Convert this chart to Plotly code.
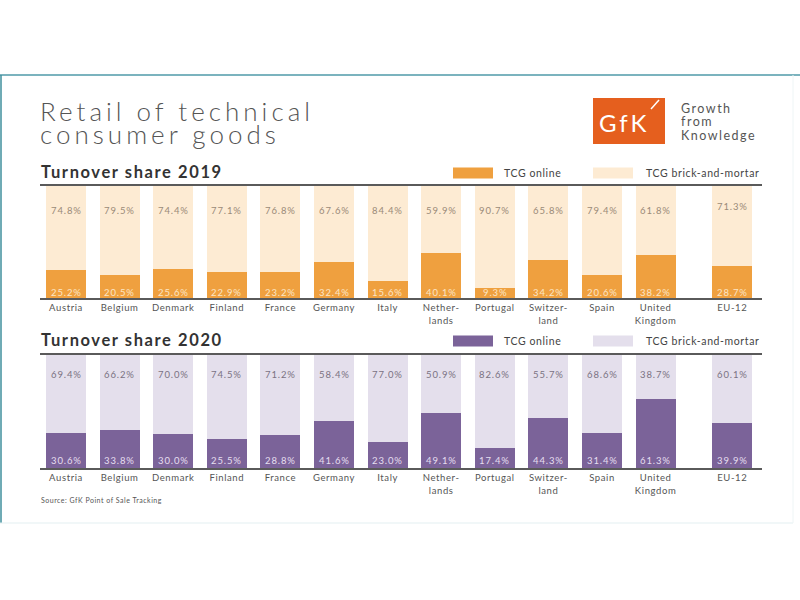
import plotly.graph_objects as go

countries = ["Austria", "Belgium", "Denmark", "Finland", "France", "Germany", "Italy",
             "Nether-<br>lands", "Portugal", "Switzer-<br>land", "Spain", "United<br>Kingdom", "EU-12"]
online_2019 = [25.2, 20.5, 25.6, 22.9, 23.2, 32.4, 15.6, 40.1, 9.3, 34.2, 20.6, 38.2, 28.7]
brick_2019 = [74.8, 79.5, 74.4, 77.1, 76.8, 67.6, 84.4, 59.9, 90.7, 65.8, 79.4, 61.8, 71.3]
online_2020 = [30.6, 33.8, 30.0, 25.5, 28.8, 41.6, 23.0, 49.1, 17.4, 44.3, 31.4, 61.3, 39.9]
brick_2020 = [69.4, 66.2, 70.0, 74.5, 71.2, 58.4, 77.0, 50.9, 82.6, 55.7, 68.6, 38.7, 60.1]

W, H = 800, 600
FONT = "Lato"
ORANGE, BEIGE = "#EFA03F", "#FDEBD3"
PURPLE, LILAC = "#7B6399", "#E4DFEC"

# x positions: countries evenly spaced, EU-12 after a wider gap
GAP = 1.43
xpos = list(range(len(countries) - 1)) + [len(countries) - 2 + GAP]
BARW = 0.746
XR = [-0.485, 12.985]


def px(x):
    return x / W


def py(y):
    return 1 - y / H


def ls(text, sp, size=None):
    parts = text.split("<br>")
    fs = f"font-size:{size}px;" if size else ""
    return "<br>".join(f'<span style="{fs}letter-spacing:{sp}px">{p}</span>' for p in parts)


fig = go.Figure()

panels = [
    dict(on=online_2019, br=brick_2019, c1=ORANGE, c2=BEIGE, xa="x", ya="y",
         toplab_c="#9a8a78", botlab_c="#FCE6C6", toplab=78, eutop=81.5, botlab=4.8),
    dict(on=online_2020, br=brick_2020, c1=PURPLE, c2=LILAC, xa="x2", ya="y2",
         toplab_c="#7a7282", botlab_c="#E6DFF0", toplab=83, eutop=83, botlab=6.4),
]

annotations = []
shapes = []

for p in panels:
    fig.add_trace(go.Bar(x=xpos, y=p["on"], width=BARW, marker=dict(color=p["c1"], line=dict(width=0)),
                         xaxis=p["xa"], yaxis=p["ya"], showlegend=False, hoverinfo="skip"))
    fig.add_trace(go.Bar(x=xpos, y=p["br"], width=BARW, marker=dict(color=p["c2"], line=dict(width=0)),
                         xaxis=p["xa"], yaxis=p["ya"], showlegend=False, hoverinfo="skip"))
    n = len(countries)
    for i in range(n):
        ty = p["eutop"] if i == n - 1 else p["toplab"]
        annotations.append(dict(x=xpos[i], y=ty, xref=p["xa"], yref=p["ya"], text=ls(f"{p['br'][i]:.1f}%", 0.9),
                                showarrow=False, font=dict(family=FONT, size=9.5, color=p["toplab_c"])))
        annotations.append(dict(x=xpos[i], y=p["botlab"], xref=p["xa"], yref=p["ya"], text=ls(f"{p['on'][i]:.1f}%", 0.9),
                                showarrow=False, font=dict(family=FONT, size=9.5, color=p["botlab_c"])))

axis_common = dict(range=XR, tickvals=xpos, ticktext=[ls(c, 0.6) for c in countries], showgrid=False, zeroline=False,
                   showline=True, mirror=True, linecolor="#5a5a5a", linewidth=1.5, ticks="",
                   tickfont=dict(family=FONT, size=9.5, color="#555555"), fixedrange=True)
yaxis_common = dict(range=[0, 100], visible=False, fixedrange=True)

fig.update_layout(
    width=W, height=H, margin=dict(l=0, r=0, t=0, b=0),
    paper_bgcolor="white", plot_bgcolor="rgba(0,0,0,0)",
    barmode="stack", bargap=0,
    xaxis=dict(domain=[px(40), px(762)], anchor="y", **axis_common),
    yaxis=dict(domain=[py(298), py(186)], anchor="x", **yaxis_common),
    xaxis2=dict(domain=[px(40), px(762)], anchor="y2", **axis_common),
    yaxis2=dict(domain=[py(468), py(355)], anchor="x2", **yaxis_common),
)

# Title: base font size sets the (tight) line leading, spans set glyph size
annotations.append(dict(x=px(38), y=py(123), xref="paper", yref="paper", xanchor="left", yanchor="middle",
                        text=ls("Retail of technical<br>consumer goods", 4.0, 26), showarrow=False, align="left",
                        font=dict(family=FONT, size=17.5, color="#555555", weight=300)))
# Subtitles
for txt, y in [("Turnover share 2019", 172), ("Turnover share 2020", 340)]:
    annotations.append(dict(x=px(39), y=py(y), xref="paper", yref="paper", xanchor="left", yanchor="middle",
                            text=f"<b>{ls(txt, 1.6)}</b>", showarrow=False,
                            font=dict(family=FONT, size=16.5, color="#333333")))

# Legends
for y, c1, c2 in [(173, ORANGE, BEIGE), (341, PURPLE, LILAC)]:
    shapes.append(dict(type="rect", xref="paper", yref="paper", x0=px(453), x1=px(493), y0=py(y + 5.5), y1=py(y - 5.5),
                       fillcolor=c1, line=dict(width=0)))
    shapes.append(dict(type="rect", xref="paper", yref="paper", x0=px(593), x1=px(633), y0=py(y + 5.5), y1=py(y - 5.5),
                       fillcolor=c2, line=dict(width=0)))
    annotations.append(dict(x=px(502), y=py(y), xref="paper", yref="paper", xanchor="left", yanchor="middle",
                            text=ls("TCG online", 0.6), showarrow=False, font=dict(family=FONT, size=10.5, color="#444444")))
    annotations.append(dict(x=px(644), y=py(y), xref="paper", yref="paper", xanchor="left", yanchor="middle",
                            text=ls("TCG brick-and-mortar", 0.6), showarrow=False, font=dict(family=FONT, size=10.5, color="#444444")))

# Logo
shapes.append(dict(type="rect", xref="paper", yref="paper", x0=px(593), x1=px(665), y0=py(144), y1=py(98),
                   fillcolor="#E55F1E", line=dict(width=0)))
shapes.append(dict(type="line", xref="paper", yref="paper", x0=px(651), x1=px(659), y0=py(109), y1=py(100),
                   line=dict(color="white", width=1.5)))
annotations.append(dict(x=px(597), y=py(122), xref="paper", yref="paper", xanchor="left", yanchor="middle",
                        text=ls("GfK", 3), showarrow=False, font=dict(family=FONT, size=24, color="white")))
annotations.append(dict(x=px(679), y=py(122), xref="paper", yref="paper", xanchor="left", yanchor="middle",
                        text=ls("Growth<br>from<br>Knowledge", 1.5, 12.5), showarrow=False, align="left",
                        font=dict(family=FONT, size=10.2, color="#555555")))

# Source
annotations.append(dict(x=px(39), y=py(500), xref="paper", yref="paper", xanchor="left", yanchor="middle",
                        text=ls("Source: GfK Point of Sale Tracking", 0.5), showarrow=False,
                        font=dict(family=FONT, size=7, color="#555555")))

# Frame
shapes.append(dict(type="line", xref="paper", yref="paper", x0=0, x1=1, y0=py(75), y1=py(75),
                   line=dict(color="#4f9aa8", width=1.5)))
shapes.append(dict(type="line", xref="paper", yref="paper", x0=px(1), x1=px(1), y0=py(75), y1=py(523),
                   line=dict(color="#3f8f9c", width=1.5)))
shapes.append(dict(type="line", xref="paper", yref="paper", x0=0, x1=px(793), y0=py(523), y1=py(523),
                   line=dict(color="#e3eff1", width=1)))
shapes.append(dict(type="line", xref="paper", yref="paper", x0=px(793), x1=px(793), y0=py(75), y1=py(523),
                   line=dict(color="#eef5f6", width=1)))

fig.update_layout(annotations=annotations, shapes=shapes)
fig.write_html("out.html", config={"displayModeBar": False},
               post_script="document.body.style.margin='0';document.body.style.overflow='hidden';")
